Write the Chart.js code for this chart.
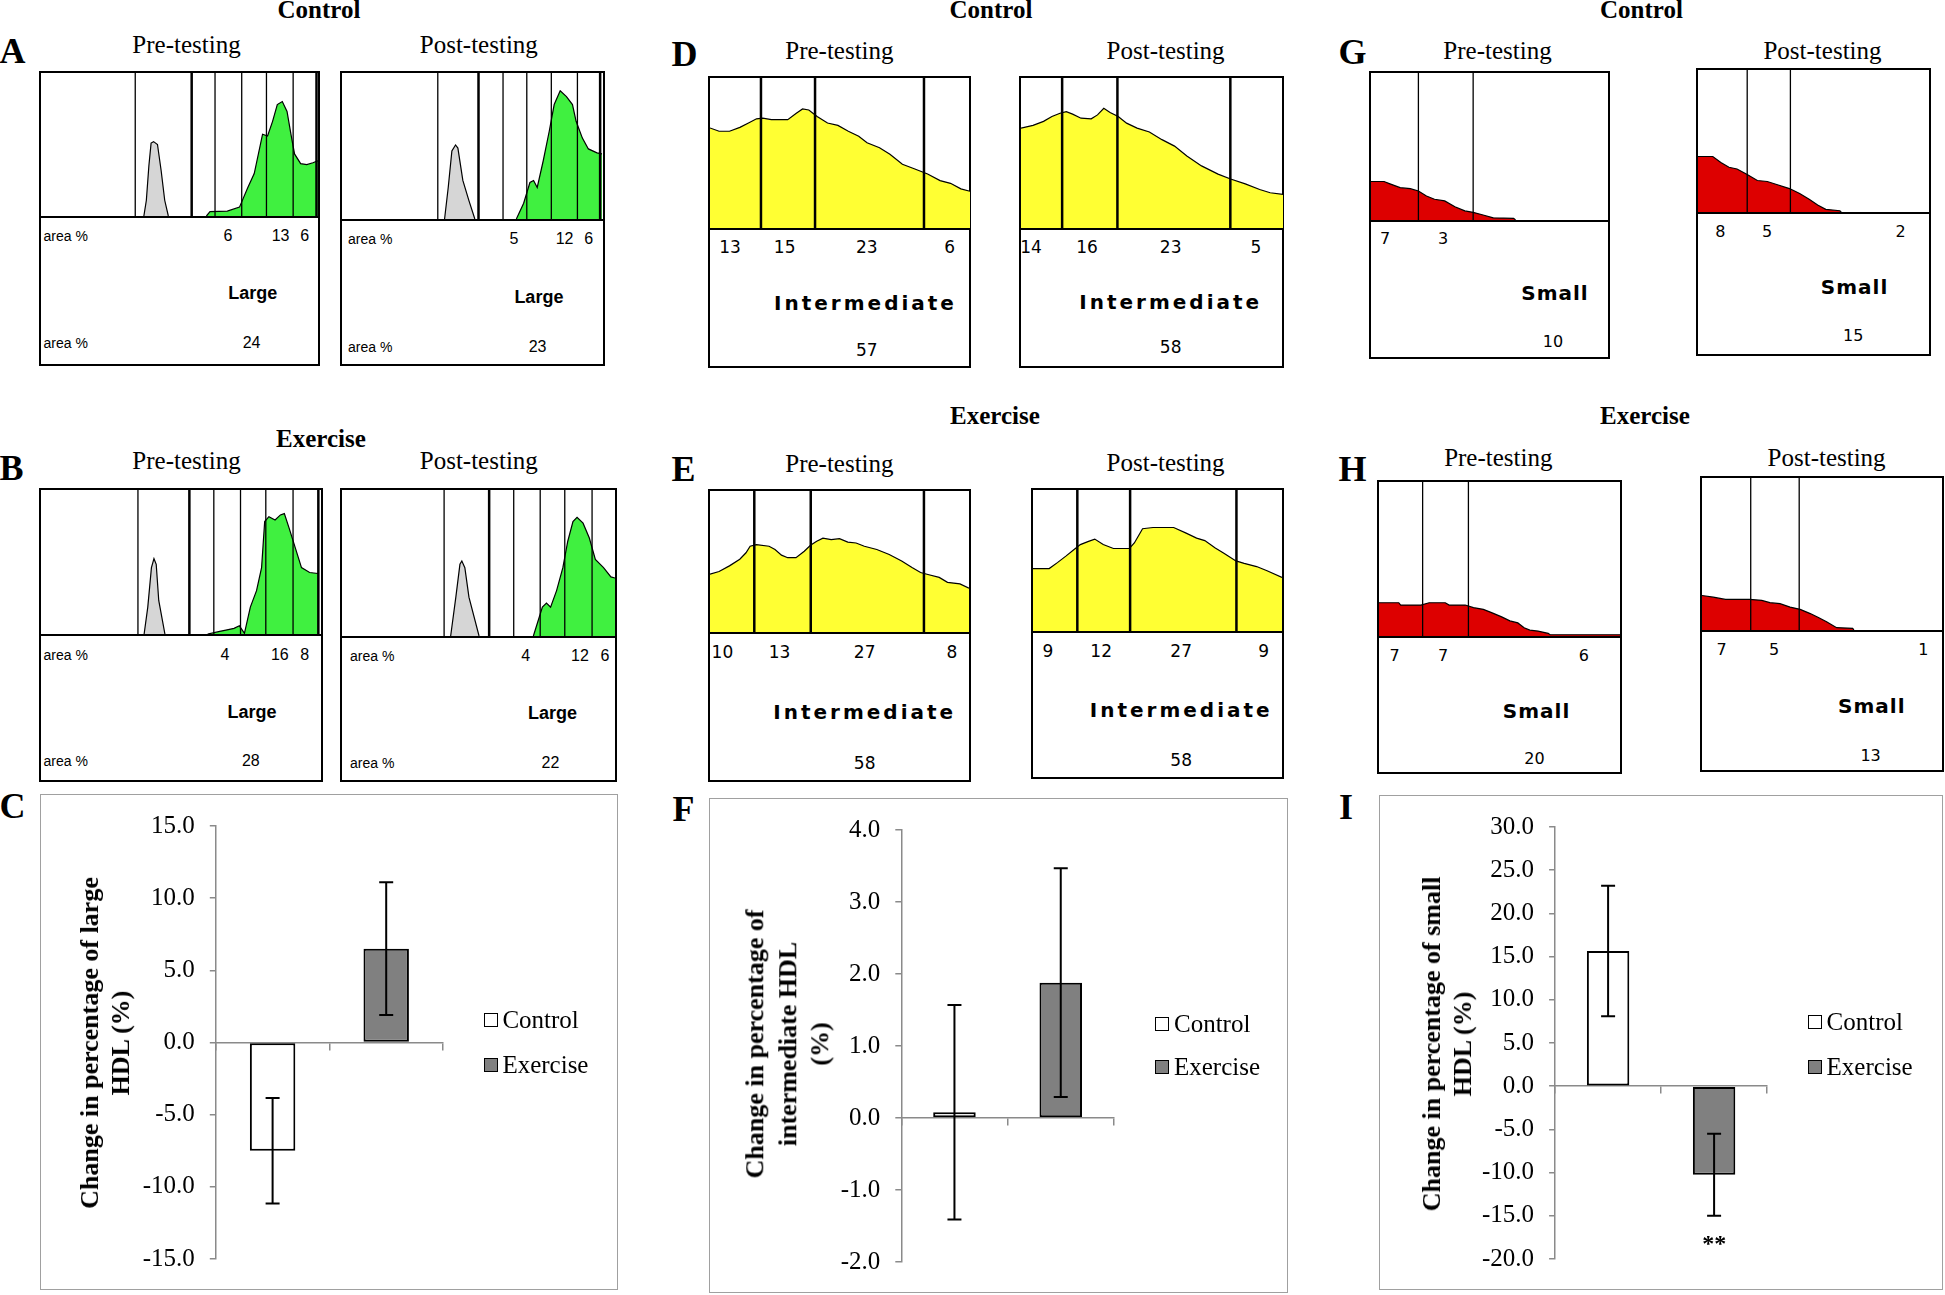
<!DOCTYPE html>
<html>
<head>
<meta charset="utf-8">
<script src="https://cdn.jsdelivr.net/npm/chart.js@4.4.1/dist/chart.umd.min.js"></script>
<style>
  html, body { margin: 0; padding: 0; background: #fff; }
  #page { position: relative; width: 1945px; height: 1295px; overflow: hidden; background: #fff; }
  .t { position: absolute; white-space: nowrap; line-height: 1; transform: translate(-50%, -50%); color: #000; }
  .box { position: absolute; border: 2px solid #000; box-sizing: border-box; background: #fff; }
  .frame { position: absolute; border: 1.5px solid #a0a0a0; box-sizing: border-box; }
  .sq { position: absolute; width: 14px; height: 14px; border: 1.5px solid #000; box-sizing: border-box; }
</style>
</head>
<body>
<div id="page"></div>
<script>
// ---- profile data (x: relative mobility 0-100, y: relative absorbance 0-100) ----
// A: large HDL, control
const aPreCuts = [33.9, 62.6, 72.2, 81.1, 90.7];
const aPreBounds = [54.2, 99.1];
const aPreRefX = [37.0, 37.9, 38.8, 39.6, 40.5, 41.9, 43.2, 44.5, 45.8];
const aPreRefY = [0, 11, 35, 51, 52, 50, 32, 11, 0];
const aPreX = [59.5, 60.8, 67.0, 71.4, 74.4, 76.7, 79.7, 81.5, 83.3, 85.0, 86.8, 88.5, 89.9, 91.2, 93.4, 95.6, 97.8, 99.6];
const aPreY = [0, 3, 3.4, 6.2, 20, 29.7, 57.2, 55.9, 66.2, 77.9, 80, 73.1, 57.2, 43.4, 36.6, 35.9, 37.2, 38.6];
const aPreAreas = [6, 13, 6];
const aPreTotal = 24;

const aPostCuts = [36.7, 61.7, 70.8, 80.2, 90.2];
const aPostBounds = [52.3, 98.9];
const aPostRefX = [39.3, 40.7, 42.1, 43.5, 44.4, 46.3, 48.6, 50.9];
const aPostRefY = [0, 21.6, 46.6, 50.7, 48.6, 26.4, 12.8, 0];
const aPostX = [66.8, 69.6, 72.0, 73.4, 74.8, 77.1, 79.4, 81.3, 83.6, 86.0, 88.3, 89.7, 92.1, 94.4, 97.7, 99.6];
const aPostY = [0, 10.8, 25, 26.4, 21.6, 39.9, 60.1, 78.4, 87.8, 83.8, 78.4, 66.9, 55.4, 48, 45.3, 44.6];
const aPostAreas = [5, 12, 6];
const aPostTotal = 23;

// B: large HDL, exercise
const bPreCuts = [34.5, 61.5, 71.0, 80.0, 89.7];
const bPreBounds = [52.8, 98.7];
const bPreRefX = [36.7, 38.0, 39.3, 40.2, 41.0, 41.9, 44.1];
const bPreRefY = [0, 18.7, 46.1, 52.3, 48.4, 23.3, 0];
const bPreX = [59.3, 63.6, 65.8, 68.7, 70.6, 72.4, 74.5, 76.7, 78.5, 79.6, 81.1, 83.3, 85.2, 86.6, 88.3, 90.5, 92.7, 95.6, 98.6];
const bPreY = [0, 1.8, 2.7, 3.9, 5.7, 0.5, 18.7, 30.1, 46.1, 78.1, 81.5, 79.2, 82.7, 83.6, 73.5, 59.8, 46.1, 42.7, 42];
const bPreAreas = [4, 16, 8];
const bPreTotal = 28;

const bPostCuts = [37.4, 62.9, 72.6, 81.6, 91.6];
const bPostBounds = [53.9];
const bPostRefX = [39.8, 41.7, 43.2, 43.9, 45.0, 46.5, 50.2];
const bPostRefY = [0, 26.6, 49.1, 51.4, 46.8, 26.6, 0];
const bPostX = [70.1, 71.9, 73.4, 74.9, 76.4, 78.6, 80.9, 82.7, 84.6, 86.1, 88.3, 90.6, 92.8, 95.8, 98.5, 100];
const bPostY = [0, 10.8, 19.8, 22.5, 19.8, 31.1, 46.8, 64.9, 78.4, 81.3, 77.3, 67.1, 52.5, 46.8, 40.5, 39.7];
const bPostAreas = [4, 12, 6];
const bPostTotal = 22;

// D: intermediate HDL, control
const dPreCuts = [19.6, 40.4, 82.3];
const dPreX = [0, 3.5, 7.5, 11.5, 14.8, 17.9, 20.3, 23.6, 29.9, 33.2, 35.6, 38.0, 41.2, 45.2, 49.2, 53.2, 57.2, 60.4, 65.2, 69.2, 74.0, 78.8, 83.7, 88.5, 92.5, 96.5, 100];
const dPreY = [66.7, 64.5, 64.5, 67.1, 70.0, 72.8, 73.2, 72.2, 72.2, 76.5, 79.4, 78.7, 74.3, 70.0, 68.4, 64.5, 61.2, 56.8, 53.5, 49.1, 42.5, 39.3, 36.0, 31.6, 29.8, 26.1, 24.5];
const dPreAreas = [13, 15, 23, 6];
const dPreTotal = 57;

const dPostCuts = [15.7, 36.8, 79.9];
const dPostX = [0, 4.6, 8.6, 11.8, 14.9, 17.3, 19.7, 22.9, 26.8, 29.2, 31.6, 34.0, 37.1, 40.3, 44.3, 49.0, 53.8, 58.6, 63.3, 68.9, 75.2, 80.0, 85.6, 91.1, 95.1, 100];
const dPostY = [66.6, 68.4, 71.1, 74.3, 76.5, 77.6, 75.9, 73.2, 72.8, 75.4, 79.8, 77.0, 74.3, 69.9, 66.6, 64.0, 58.9, 54.6, 48.0, 41.4, 35.9, 32.7, 29.4, 25.7, 23.5, 22.4];
const dPostAreas = [14, 16, 23, 5];
const dPostTotal = 58;

// E: intermediate HDL, exercise
const ePreCuts = [17.1, 38.9, 82.6];
const ePreX = [0, 3.5, 7.5, 11.5, 13.9, 15.5, 17.9, 22.8, 25.1, 27.6, 30.0, 33.2, 36.4, 38.8, 41.2, 43.6, 46.8, 50.0, 53.2, 56.4, 59.6, 64.4, 69.2, 74.0, 78.0, 81.3, 84.5, 88.5, 91.7, 96.5, 100];
const ePreY = [41.0, 42.9, 46.9, 51.6, 56.2, 60.8, 62.0, 60.8, 58.5, 54.5, 52.7, 52.7, 57.3, 61.5, 64.3, 66.6, 65.5, 66.2, 63.8, 63.1, 60.8, 58.5, 55.0, 50.3, 45.7, 42.2, 40.6, 38.7, 35.2, 34.1, 31.0];
const ePreAreas = [10, 13, 27, 8];
const ePreTotal = 58;

const ePostCuts = [17.8, 39.0, 81.7];
const ePostX = [0, 6.5, 9.8, 13.2, 16.5, 19.0, 22.3, 24.8, 28.2, 32.3, 38.7, 40.7, 44.0, 48.2, 56.5, 61.5, 65.7, 69.0, 73.2, 76.5, 81.5, 84.8, 89.8, 94.0, 100];
const ePostY = [44.3, 44.3, 48.5, 53.1, 57.8, 61.3, 63.6, 65.2, 61.3, 58.5, 58.5, 62.4, 72.5, 73.4, 73.4, 69.4, 65.9, 64.1, 58.9, 55.4, 49.7, 48.0, 45.7, 42.7, 38.0];
const ePostAreas = [9, 12, 27, 9];
const ePostTotal = 58;

// G: small HDL, control
const gPreCuts = [20.0, 43.1];
const gPreX = [0, 5.5, 8.0, 12.3, 16.6, 20.0, 23.4, 26.8, 31.1, 35.4, 39.6, 43.1, 47.3, 51.6, 60.2, 61.0];
const gPreY = [26.2, 26.2, 24.6, 22.0, 21.3, 19.7, 16.3, 14.1, 13.0, 9.0, 6.2, 5.2, 3.4, 1.5, 1.1, 0];
const gPreAreas = [7, 3];
const gPreTotal = 10;

const gPostCuts = [21.3, 40.0];
const gPostX = [0, 6.4, 9.9, 13.4, 16.9, 21.3, 25.7, 30.0, 34.4, 39.6, 44.0, 48.3, 51.8, 55.3, 61.4, 62.0];
const gPostY = [39.1, 39.1, 34.9, 31.5, 30.3, 26.4, 22.2, 21.5, 19.2, 16.5, 13.0, 8.8, 4.9, 1.9, 0.9, 0];
const gPostAreas = [8, 5, 2];
const gPostTotal = 15;

// H: small HDL, exercise
const hPreCuts = [18.1, 37.1];
const hPreX = [0, 8.2, 9.0, 17.4, 20.8, 27.5, 29.1, 35.8, 39.2, 43.3, 46.7, 50.9, 54.3, 57.6, 60.2, 62.6, 66.0, 70.2, 71.0, 100];
const hPreY = [21.6, 21.6, 20.1, 20.1, 21.6, 21.6, 20.1, 20.1, 18.4, 17.3, 15.2, 12.4, 9.8, 8.5, 5.3, 3.8, 3.2, 1.7, 0.8, 0.8];
const hPreAreas = [7, 7, 6];
const hPreTotal = 20;

const hPostCuts = [20.3, 40.5];
const hPostX = [0, 4.7, 9.8, 19.9, 24.9, 28.3, 32.5, 36.7, 40.9, 45.1, 48.5, 51.9, 56.1, 62.8, 63.3];
const hPostY = [22.7, 21.6, 20.1, 20.1, 19.5, 18.0, 17.3, 15.1, 13.6, 10.8, 8.2, 5.4, 1.5, 1.1, 0];
const hPostAreas = [7, 5, 1];
const hPostTotal = 13;

// ---- change in percentage (mean, error) ----
const groups = ['Control', 'Exercise'];
const largeMean = [-7.5, 6.5];
const largeErr = [3.65, 4.6];
const largeRange = [-15, 15, 5];
const interMean = [0.08, 1.88];
const interErr = [1.49, 1.59];
const interRange = [-2, 4, 1];
const smallMean = [15.65, -10.25];
const smallErr = [7.55, 4.75];
const smallRange = [-20, 30, 5];

// ---- styling / layout ----
const SERIF = '"Liberation Serif", "Times New Roman", serif';
const AXIS = '#8a8a8a';
const GREEN = '#40f040';
const YELLOW = '#ffff33';
const RED = '#dd0000';
const REF = '#d6d6d6';

const page = document.getElementById('page');

function text(str, x, y, css, leftAnchor) {
  const d = document.createElement('div');
  d.className = 't';
  d.textContent = str;
  d.style.left = x + 'px';
  d.style.top = y + 'px';
  Object.assign(d.style, css || {});
  if (leftAnchor) d.style.transform = 'translate(0, -50%)';
  page.appendChild(d);
  return d;
}

function vline(x, w) {
  return {
    data: [{ x: x, y: 0 }, { x: x, y: 100 }],
    showLine: true, borderColor: '#000', borderWidth: w, pointRadius: 0, fill: false
  };
}

function profile(g, curves, cuts, bounds) {
  const box = document.createElement('div');
  box.className = 'box';
  box.style.left = g.l + 'px';
  box.style.top = g.t + 'px';
  box.style.width = (g.r - g.l) + 'px';
  box.style.height = (g.b - g.t) + 'px';
  page.appendChild(box);

  const w = Math.round(g.r - g.l - 4), h = Math.round(g.s - g.t - 2);
  const cv = document.createElement('canvas');
  cv.width = w; cv.height = h;
  cv.style.position = 'absolute'; cv.style.left = '0px'; cv.style.top = '0px';
  box.appendChild(cv);

  const sep = document.createElement('div');
  Object.assign(sep.style, { position: 'absolute', left: '0px', right: '0px', top: h + 'px', height: '2px', background: '#000' });
  box.appendChild(sep);

  const datasets = [];
  (bounds || []).forEach(c => datasets.push(vline(c, 2.5)));
  cuts.forEach(c => datasets.push(vline(c, 1.3)));
  curves.forEach(cu => datasets.push({
    data: cu.x.map((x, i) => ({ x: x, y: cu.y[i] })),
    showLine: true, fill: 'origin', backgroundColor: cu.color,
    borderColor: '#000', borderWidth: 1.2, pointRadius: 0
  }));

  new Chart(cv, {
    type: 'scatter',
    data: { datasets },
    options: {
      responsive: false, animation: false, events: [],
      layout: { padding: 0 },
      plugins: { legend: { display: false }, tooltip: { enabled: false } },
      scales: {
        x: { type: 'linear', min: 0, max: 100, display: false },
        y: { type: 'linear', min: 0, max: 100, display: false }
      }
    }
  });
}

function profileLabels(L, areas, total, name, fonts) {
  if (L.area !== undefined) {
    text('area %', L.area, L.ny, fonts.area, true);
    text('area %', L.area, L.ty, fonts.area, true);
  }
  areas.forEach((v, i) => text(String(v), L.nx[i], L.ny, fonts.num));
  text(name, L.cx, L.cy, fonts.name);
  text(String(total), L.tx, L.ty, fonts.num);
}

const fontLarge = {
  area: { font: '14px "Liberation Sans", Arial, sans-serif' },
  num: { font: '16px "Liberation Sans", Arial, sans-serif' },
  name: { font: 'bold 18px "Liberation Sans", Arial, sans-serif' }
};
const fontInter = {
  num: { font: '17px "DejaVu Sans", sans-serif' },
  name: { font: 'bold 20px "DejaVu Sans", sans-serif', letterSpacing: '3px' }
};
const fontSmall = {
  num: { font: '16px "DejaVu Sans", sans-serif' },
  name: { font: 'bold 20px "DejaVu Sans", sans-serif', letterSpacing: '1px' }
};

// box geometry: left, right, top, bottom, separator
const geo = {
  aPre:  { l: 38.5, r: 320.4, t: 71, b: 366, s: 216 },
  aPost: { l: 340, r: 605.2, t: 71, b: 366, s: 219 },
  bPre:  { l: 38.5, r: 323, t: 488, b: 782, s: 634 },
  bPost: { l: 340, r: 616.8, t: 488, b: 782, s: 636 },
  dPre:  { l: 707.7, r: 971.2, t: 76, b: 368, s: 228 },
  dPost: { l: 1018.7, r: 1284.3, t: 76, b: 368, s: 228 },
  ePre:  { l: 707.7, r: 970.7, t: 489, b: 782, s: 632 },
  ePost: { l: 1031, r: 1284.3, t: 488, b: 779, s: 631 },
  gPre:  { l: 1369, r: 1609.8, t: 71, b: 359, s: 220 },
  gPost: { l: 1696.2, r: 1931.5, t: 68, b: 356, s: 212 },
  hPre:  { l: 1377, r: 1622, t: 480, b: 774, s: 636 },
  hPost: { l: 1700.3, r: 1943.8, t: 476, b: 772, s: 630 }
};
const lab = {
  aPre:  { area: 43.5, nx: [228, 280.6, 304.7], ny: 236, cx: 252.8, cy: 293, tx: 251.6, ty: 343 },
  aPost: { area: 348, nx: [514, 564.6, 588.6], ny: 239, cx: 538.9, cy: 297, tx: 537.6, ty: 347 },
  bPre:  { area: 43.5, nx: [225, 279.8, 304.7], ny: 655, cx: 252, cy: 712, tx: 250.8, ty: 761 },
  bPost: { area: 350, nx: [525.6, 580, 605], ny: 656, cx: 552.5, cy: 713, tx: 550.5, ty: 763 },
  dPre:  { nx: [730, 784.7, 866.8, 949.7], ny: 247, cx: 865.5, cy: 303, tx: 866.8, ty: 350 },
  dPost: { nx: [1031, 1087, 1170.7, 1256], ny: 247, cx: 1170.7, cy: 302, tx: 1170.7, ty: 347 },
  ePre:  { nx: [722.4, 779.6, 864.7, 951.8], ny: 652, cx: 864.7, cy: 712, tx: 864.7, ty: 763 },
  ePost: { nx: [1047.8, 1101.2, 1181.2, 1263.7], ny: 651, cx: 1181.2, cy: 710, tx: 1181.2, ty: 760 },
  gPre:  { nx: [1385, 1443], ny: 238, cx: 1555, cy: 293, tx: 1553, ty: 341 },
  gPost: { nx: [1720.4, 1767, 1900.6], ny: 231, cx: 1854.6, cy: 287, tx: 1853.3, ty: 335 },
  hPre:  { nx: [1394.6, 1443, 1583.9], ny: 655, cx: 1536.6, cy: 711, tx: 1534.5, ty: 758 },
  hPost: { nx: [1721.7, 1774, 1923.3], ny: 649, cx: 1871.8, cy: 706, tx: 1870.6, ty: 755 }
};

// ---- headings ----
const hBold = { font: 'bold 25px ' + SERIF };
const hReg = { font: '25px ' + SERIF };
const letter = { font: 'bold 36px ' + SERIF };
text('Control', 319, 10, hBold);
text('Control', 991, 10, hBold);
text('Control', 1641.5, 10, hBold);
text('Exercise', 321, 439, hBold);
text('Exercise', 995, 416, hBold);
text('Exercise', 1645, 416, hBold);
[[186.5, 45, 478.8, 45], [186.5, 461, 478.8, 461], [839.4, 50.5, 1165.6, 50.5],
 [839.4, 464, 1165.6, 463], [1497.5, 51, 1822.5, 51], [1498.3, 458, 1826.6, 458]].forEach(p => {
  text('Pre-testing', p[0], p[1], hReg);
  text('Post-testing', p[2], p[3], hReg);
});
[['A', 12.4, 51], ['B', 11.5, 468], ['C', 12.5, 806], ['D', 684.5, 54], ['E', 683.5, 469],
 ['F', 683.5, 809], ['G', 1352.5, 52], ['H', 1352.5, 469], ['I', 1346, 807]].forEach(p => text(p[0], p[1], p[2], letter));

// ---- profiles ----
profile(geo.aPre, [{ x: aPreRefX, y: aPreRefY, color: REF }, { x: aPreX, y: aPreY, color: GREEN }], aPreCuts, aPreBounds);
profile(geo.aPost, [{ x: aPostRefX, y: aPostRefY, color: REF }, { x: aPostX, y: aPostY, color: GREEN }], aPostCuts, aPostBounds);
profile(geo.bPre, [{ x: bPreRefX, y: bPreRefY, color: REF }, { x: bPreX, y: bPreY, color: GREEN }], bPreCuts, bPreBounds);
profile(geo.bPost, [{ x: bPostRefX, y: bPostRefY, color: REF }, { x: bPostX, y: bPostY, color: GREEN }], bPostCuts, bPostBounds);
profile(geo.dPre, [{ x: dPreX, y: dPreY, color: YELLOW }], [], dPreCuts);
profile(geo.dPost, [{ x: dPostX, y: dPostY, color: YELLOW }], [], dPostCuts);
profile(geo.ePre, [{ x: ePreX, y: ePreY, color: YELLOW }], [], ePreCuts);
profile(geo.ePost, [{ x: ePostX, y: ePostY, color: YELLOW }], [], ePostCuts);
profile(geo.gPre, [{ x: gPreX, y: gPreY, color: RED }], gPreCuts);
profile(geo.gPost, [{ x: gPostX, y: gPostY, color: RED }], gPostCuts);
profile(geo.hPre, [{ x: hPreX, y: hPreY, color: RED }], hPreCuts);
profile(geo.hPost, [{ x: hPostX, y: hPostY, color: RED }], hPostCuts);

profileLabels(lab.aPre, aPreAreas, aPreTotal, 'Large', fontLarge);
profileLabels(lab.aPost, aPostAreas, aPostTotal, 'Large', fontLarge);
profileLabels(lab.bPre, bPreAreas, bPreTotal, 'Large', fontLarge);
profileLabels(lab.bPost, bPostAreas, bPostTotal, 'Large', fontLarge);
profileLabels(lab.dPre, dPreAreas, dPreTotal, 'Intermediate', fontInter);
profileLabels(lab.dPost, dPostAreas, dPostTotal, 'Intermediate', fontInter);
profileLabels(lab.ePre, ePreAreas, ePreTotal, 'Intermediate', fontInter);
profileLabels(lab.ePost, ePostAreas, ePostTotal, 'Intermediate', fontInter);
profileLabels(lab.gPre, gPreAreas, gPreTotal, 'Small', fontSmall);
profileLabels(lab.gPost, gPostAreas, gPostTotal, 'Small', fontSmall);
profileLabels(lab.hPre, hPreAreas, hPreTotal, 'Small', fontSmall);
profileLabels(lab.hPost, hPostAreas, hPostTotal, 'Small', fontSmall);

// ---- bar charts with error bars ----
const errorBars = {
  id: 'errorBars',
  afterDatasetsDraw(chart) {
    const ctx = chart.ctx, ys = chart.scales.y;
    ctx.save();
    ctx.strokeStyle = '#000';
    ctx.lineWidth = 2;
    chart.data.datasets.forEach((ds, i) => {
      chart.getDatasetMeta(i).data.forEach((bar, j) => {
        const v = ds.data[j];
        if (v === null || v === undefined) return;
        const e = ds.errors[j];
        const top = ys.getPixelForValue(v + e), bot = ys.getPixelForValue(v - e);
        const x = bar.x, cap = 7;
        ctx.beginPath();
        ctx.moveTo(x, top); ctx.lineTo(x, bot);
        ctx.moveTo(x - cap, top); ctx.lineTo(x + cap, top);
        ctx.moveTo(x - cap, bot); ctx.lineTo(x + cap, bot);
        ctx.stroke();
      });
    });
    ctx.restore();
  }
};

function barChart(g, means, errs, range, titleLines, titleX, lineH) {
  const fr = document.createElement('div');
  fr.className = 'frame';
  Object.assign(fr.style, { left: g.l + 'px', top: g.t + 'px', width: (g.r - g.l) + 'px', height: (g.b - g.t) + 'px' });
  page.appendChild(fr);

  const left = g.l + 1.5, top = g.t + 1.5;
  const cw = Math.round(g.r - g.l - 3), ch = Math.round(g.b - g.t - 3);
  const cv = document.createElement('canvas');
  cv.width = cw; cv.height = ch;
  Object.assign(cv.style, { position: 'absolute', left: left + 'px', top: top + 'px' });
  page.appendChild(cv);

  const common = { borderColor: '#000', borderWidth: 2, borderSkipped: false, grouped: false, barPercentage: 0.4, categoryPercentage: 1 };
  new Chart(cv, {
    type: 'bar',
    data: {
      labels: groups,
      datasets: [
        Object.assign({ label: groups[0], data: [means[0], null], errors: [errs[0], null], backgroundColor: '#ffffff' }, common),
        Object.assign({ label: groups[1], data: [null, means[1]], errors: [null, errs[1]], backgroundColor: '#808080' }, common)
      ]
    },
    options: {
      responsive: false, animation: false, events: [],
      layout: { padding: { left: 0, top: g.y1 - top, right: left + cw - g.xEnd, bottom: top + ch - g.y0 } },
      plugins: { legend: { display: false }, tooltip: { enabled: false } },
      scales: {
        x: {
          type: 'category', position: { y: 0 }, offset: true,
          grid: { offset: true, drawOnChartArea: false, drawTicks: true, tickLength: 7, color: AXIS, lineWidth: 1.5 },
          border: { display: true, color: AXIS, width: 1.5 },
          ticks: { display: false }
        },
        y: {
          min: range[0], max: range[1],
          ticks: { stepSize: range[2], callback: v => v.toFixed(1), color: '#000', padding: 15, font: { family: SERIF, size: 25 } },
          grid: { drawOnChartArea: false, drawTicks: true, tickLength: 6, color: AXIS, lineWidth: 1.5 },
          border: { display: true, color: AXIS, width: 1.5 },
          afterFit: s => { s.width = g.axis - left; }
        }
      }
    },
    plugins: [errorBars]
  });

  // legend
  const lg = g.legend;
  [[groups[0], '#ffffff', lg.y[0]], [groups[1], '#808080', lg.y[1]]].forEach(it => {
    const sq = document.createElement('div');
    sq.className = 'sq';
    Object.assign(sq.style, { left: lg.sq + 'px', top: (it[2] - 7) + 'px', background: it[1] });
    page.appendChild(sq);
    text(it[0], lg.tx, it[2], { font: '25px ' + SERIF }, true);
  });

  // rotated axis title
  const t = document.createElement('div');
  t.className = 't';
  t.innerHTML = titleLines.join('<br>');
  Object.assign(t.style, {
    left: titleX + 'px', top: g.titleY + 'px', font: 'bold 26px ' + SERIF,
    lineHeight: lineH + 'px', textAlign: 'center',
    transform: 'translate(-50%, -50%) rotate(-90deg)'
  });
  page.appendChild(t);
}

barChart({ l: 40.2, r: 617.6, t: 794, b: 1290, axis: 215.5, xEnd: 442.7, y1: 823, y0: 1262, titleY: 1043,
           legend: { sq: 484, tx: 502.4, y: [1020, 1065] } },
         largeMean, largeErr, largeRange, ['Change in percentage of large', 'HDL (%)'], 104.5, 31);
barChart({ l: 708.9, r: 1288.5, t: 798, b: 1293, axis: 901.7, xEnd: 1114.3, y1: 827, y0: 1266, titleY: 1044,
           legend: { sq: 1155, tx: 1174, y: [1024, 1067] } },
         interMean, interErr, interRange, ['Change in percentage of', 'intermediate HDL', '(%)'], 788, 32.5);
barChart({ l: 1379.4, r: 1943, t: 795, b: 1290, axis: 1555, xEnd: 1767, y1: 824.3, y0: 1264, titleY: 1044,
           legend: { sq: 1808, tx: 1826.6, y: [1021.7, 1066.7] } },
         smallMean, smallErr, smallRange, ['Change in percentage of small', 'HDL (%)'], 1447, 31);

text('**', 1714.3, 1243, { font: 'bold 24px ' + SERIF });
</script>
</body>
</html>
